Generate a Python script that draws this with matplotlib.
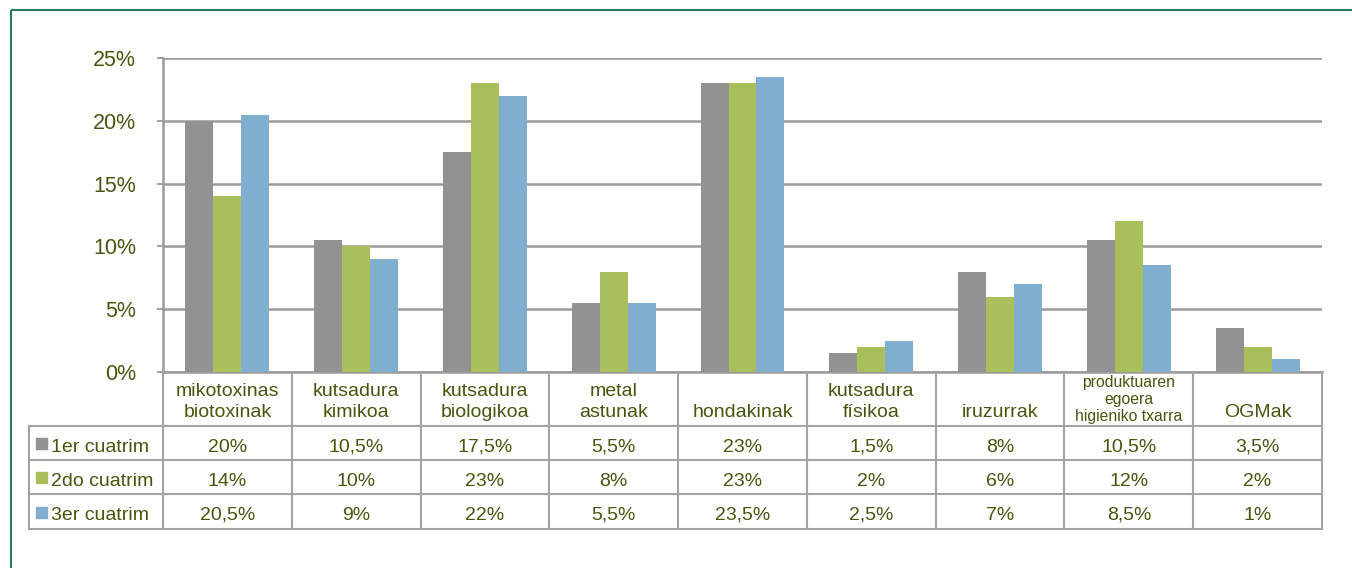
import matplotlib.pyplot as plt
import matplotlib.transforms as mtransforms
from matplotlib.lines import Line2D
from matplotlib.patches import Rectangle

# Datos del gráfico
categorias = ["mikotoxinas\nbiotoxinak", "kutsadura\nkimikoa", "kutsadura\nbiologikoa",
              "metal\nastunak", "hondakinak", "kutsadura\nfísikoa", "iruzurrak",
              "produktuaren\negoera\nhigieniko txarra", "OGMak"]
series = ["1er cuatrim", "2do cuatrim", "3er cuatrim"]
cuatrim1 = [20, 10.5, 17.5, 5.5, 23, 1.5, 8, 10.5, 3.5]
cuatrim2 = [14, 10, 23, 8, 23, 2, 6, 12, 2]
cuatrim3 = [20.5, 9, 22, 5.5, 23.5, 2.5, 7, 8.5, 1]
ticks_y = [0, 5, 10, 15, 20, 25]

colores = ['#929292', '#a9bf5c', '#80aecf']
texto = '#46560f'
linea = '#a3a3a3'
W, H = 1352, 568

plt.rcParams['font.family'] = ['Liberation Sans', 'DejaVu Sans']

fig = plt.figure(figsize=(W / 100, H / 100), dpi=100)
fig.patch.set_facecolor('white')

# transformación en píxeles (origen arriba a la izquierda)
pix = mtransforms.Affine2D().scale(1 / W, -1 / H).translate(0, 1) + fig.transFigure

x0, x1, ytop, ybot = 163, 1322, 58, 372
ax = fig.add_axes([x0 / W, 1 - ybot / H, (x1 - x0) / W, (ybot - ytop) / H])

# Barras
ancho = 0.217
datos = [cuatrim1, cuatrim2, cuatrim3]
for k, (vals, col) in enumerate(zip(datos, colores)):
    xs = [i + (k - 1) * ancho for i in range(len(categorias))]
    ax.bar(xs, vals, width=ancho, color=col, zorder=3)

ax.set_xlim(-0.5, len(categorias) - 0.5)
ax.set_ylim(0, 25)
ax.set_yticks(ticks_y)
ax.set_yticklabels([f"{t}%" for t in ticks_y])
ax.set_xticks([])
ax.yaxis.grid(True, color='#9a9a9a', linewidth=1.8, zorder=0)
for s in ['top', 'right']:
    ax.spines[s].set_visible(False)
ax.spines['left'].set_color('#9a9a9a')
ax.spines['left'].set_linewidth(1.8)
ax.spines['bottom'].set_color('#9a9a9a')
ax.spines['bottom'].set_linewidth(1.8)
ax.tick_params(axis='y', length=4.3, width=1.3, color='#9a9a9a', pad=15,
               labelsize=15.5, labelcolor=texto)

# Tabla de datos
bt = mtransforms.blended_transform_factory(ax.transData, pix)
filas = [426, 460, 494, 529]
xl = 29
n = len(categorias)

for y in filas:
    fig.add_artist(Line2D([xl, x1], [y, y], transform=pix, color=linea, lw=1.5))
fig.add_artist(Line2D([xl, xl], [filas[0], filas[-1]], transform=pix, color=linea, lw=1.5))
for i in range(n + 1):
    fig.add_artist(Line2D([i - 0.5, i - 0.5], [ybot, filas[-1]], transform=bt,
                          color=linea, lw=1.5))

for i, cat in enumerate(categorias):
    pequeño = cat.count('\n') > 1
    fig.text(i, 424 if pequeño else 421, cat, transform=bt, ha='center', va='bottom',
             fontsize=11.3 if pequeño else 14, color=texto,
             linespacing=1.15 if pequeño else 1.3)

for r, (nombre, vals, col) in enumerate(zip(series, datos, colores)):
    yc = (filas[r] + filas[r + 1]) / 2 + 4
    fig.add_artist(Rectangle((36, yc - 9), 11, 11, transform=pix, color=col))
    fig.text(51, yc, nombre, transform=pix, ha='left', va='center',
             fontsize=14, color=texto)
    for i, v in enumerate(vals):
        fig.text(i, yc, f"{v:g}".replace('.', ',') + '%', transform=bt,
                 ha='center', va='center', fontsize=14, color=texto)

# Marco exterior
fig.add_artist(Rectangle((11, 10), W + 20, H + 20, transform=pix, fill=False,
                         edgecolor='#2a7a62', lw=1.5))

fig.savefig('out.png', dpi=100)
